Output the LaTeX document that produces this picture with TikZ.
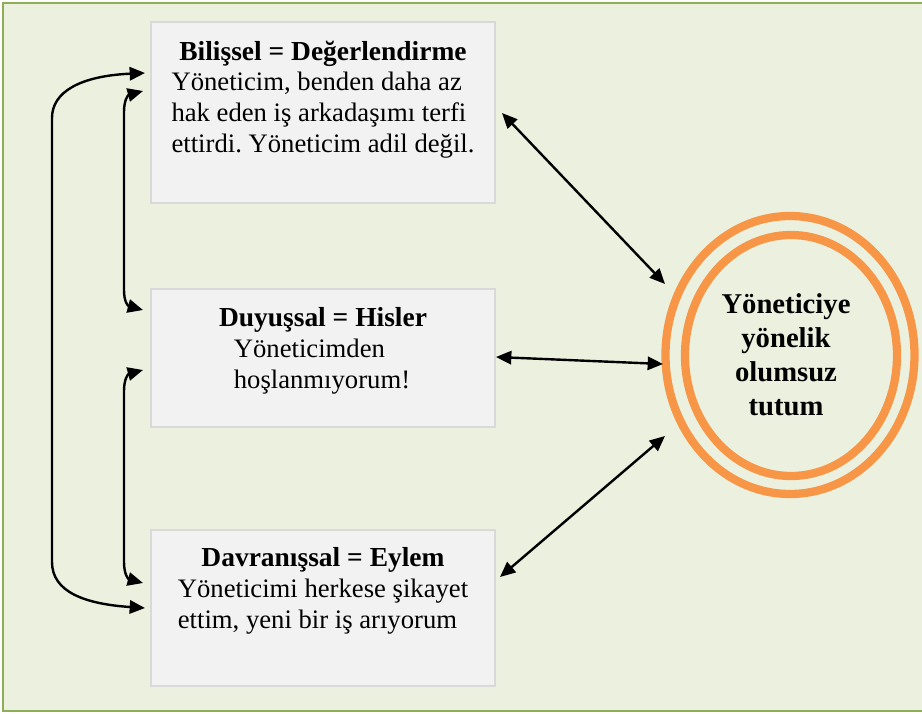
\documentclass[tikz,border=0pt]{standalone}
\usepackage{fontspec}
\setmainfont{Liberation Serif}
\usetikzlibrary{arrows.meta,shapes.geometric}
\definecolor{pagegreen}{HTML}{EBF1DE}
\definecolor{framegreen}{HTML}{8EAF57}
\definecolor{boxfill}{HTML}{F2F2F2}
\definecolor{boxline}{HTML}{D9D9D9}
\definecolor{ringorange}{HTML}{F79646}
\frenchspacing
\newcommand{\bodylines}[1]{\begin{tabular}[t]{@{}l@{}}#1\end{tabular}}
\newcommand{\centerlines}[1]{\begin{tabular}[t]{@{}c@{}}#1\end{tabular}}
\begin{document}
\begin{tikzpicture}[x=0.75pt,y=-0.75pt,
  card/.style={draw=boxline, fill=boxfill, line width=1.5pt,
    minimum width=258pt, inner sep=0pt},
  heading/.style={anchor=base, inner sep=0pt,
    font=\fontsize{20.6}{23.25}\selectfont\bfseries},
  bodytext/.style={anchor=base, inner sep=0pt,
    font=\fontsize{20}{23.25}\selectfont},
  ring/.style={ellipse, draw=ringorange, line width=6.2pt, inner sep=0pt},
  link/.style={line width=1.8pt,
    {Triangle[length=11.5pt,width=10pt]}-{Triangle[length=11.5pt,width=10pt]}}]

\useasboundingbox (0,0) rectangle (922,714);
\clip (0,0) rectangle (922,714);
\fill[white] (0,0) rectangle (922,714);
\draw[fill=pagegreen, draw=framegreen, line width=2pt] (3,3) rectangle (940,711);

% three component boxes
\node[card, minimum height=135.75pt] (b1) at (323,112.5) {};
\node[card, minimum height=103.5pt]  (b2) at (323,358) {};
\node[card, minimum height=117pt]    (b3) at (323,608) {};

\node[heading] (t1) at (323,60) {Bilişsel = Değerlendirme};
\node[bodytext] (x1) at (323,90) {\bodylines{Yöneticim, benden daha az\\
  hak eden iş arkadaşımı terfi\\ ettirdi. Yöneticim adil değil.}};

\node[heading] (t2) at (323,326) {Duyuşsal = Hisler};
\node[bodytext] (x2) at (322,357) {\bodylines{Yöneticimden\\ hoşlanmıyorum!}};

\node[heading] (t3) at (323,566) {Davranışsal = Eylem};
\node[bodytext] (x3) at (323,597) {\bodylines{Yöneticimi herkese şikayet\\
  ettim, yeni bir iş arıyorum}};

% attitude circle
\node[ring, minimum width=186.75pt, minimum height=208.5pt] (outer) at (790,355) {};
\node[ring, minimum width=159pt, minimum height=180.75pt] (inner) at (791,355.5) {};
\node[anchor=base, inner sep=0pt,
  font=\fontsize{21.5}{25.5}\selectfont\bfseries] (attitude) at (786,313)
  {\centerlines{Yöneticiye\\ yönelik\\ olumsuz\\ tutum}};

% arrow end points
\coordinate (p1) at (145,73);
\coordinate (p2) at (145,608);
\coordinate (q1) at (143,91);
\coordinate (q2) at (143,310);
\coordinate (q3) at (143,370);
\coordinate (q4) at (143,583);
\coordinate (r1) at (502,113);
\coordinate (r2) at (496,357);
\coordinate (r3) at (500,577);
\coordinate (c1) at (665,284);
\coordinate (c2) at (663,364);
\coordinate (c3) at (665,436);

% links on the left
\draw[link] (p1) .. controls (80,76) and (52,92) .. (52,118)
  -- (52,562) .. controls (52,592) and (85,604) .. (p2);
\draw[link] (q1) .. controls (128,95) and (124,100) .. (124,112)
  -- (124,290) .. controls (124,302) and (128,306) .. (q2);
\draw[link] (q3) .. controls (128,374) and (124,379) .. (124,391)
  -- (124,562) .. controls (124,574) and (128,579) .. (q4);

% links to the attitude
\draw[link] (r1) -- (c1);
\draw[link] (r2) -- (c2);
\draw[link] (r3) -- (c3);
\end{tikzpicture}
\end{document}
